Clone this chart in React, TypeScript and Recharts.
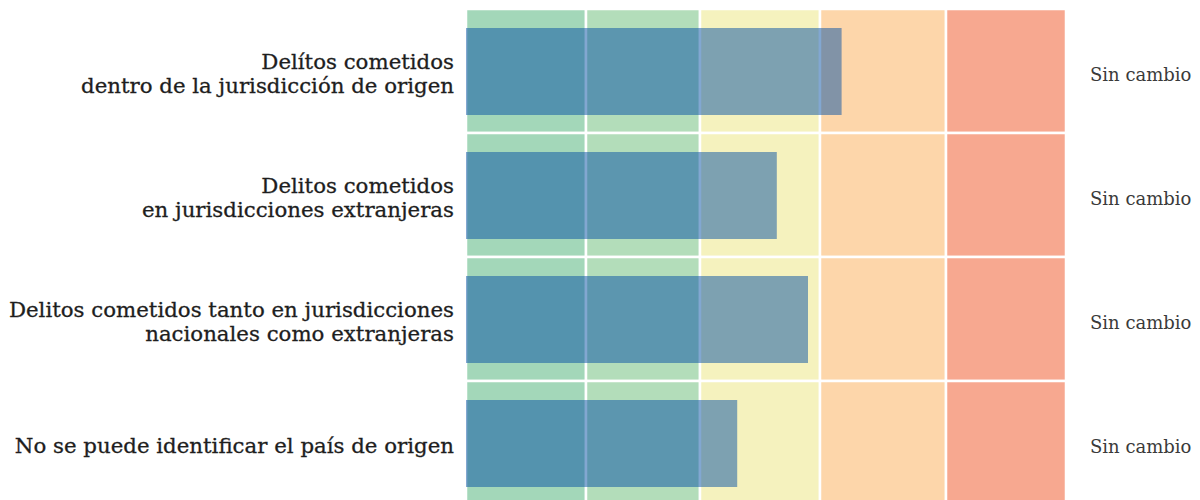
import React from 'react';
import { BarChart, Bar, XAxis, YAxis, ReferenceArea } from 'recharts';

const categories = [
  'Delítos cometidos\ndentro de la jurisdicción de origen',
  'Delitos cometidos\nen jurisdicciones extranjeras',
  'Delitos cometidos tanto en jurisdicciones\nnacionales como extranjeras',
  'No se puede identificar el país de origen',
];
const values = [62.6, 51.8, 57.0, 45.2];
const statuses = ['Sin cambio', 'Sin cambio', 'Sin cambio', 'Sin cambio'];
const bandEdges = [0, 20, 39, 59, 80, 100];
const bandColors = ['#A3D7B9', '#B3DDBA', '#F5F2BE', '#FDD6AA', '#F7A890'];

const data = categories.map((label, i) => ({ label, value: values[i], status: statuses[i] }));

const FONT = '"DejaVu Serif", serif';
const LINE = 24.5;

const LeftTick = (props: any) => {
  const { x, y, payload } = props;
  const lines = String(payload.value).split('\n');
  const n = lines.length;
  return (
    <text
      x={x}
      y={y}
      textAnchor="end"
      fontFamily={FONT}
      fontSize={21.3}
      fill="#1e1e1e"
      stroke="#1e1e1e"
      strokeWidth={0.3}
    >
      {lines.map((l, i) => (
        <tspan key={i} x={x} y={y + 10 + (i - (n - 1) / 2) * LINE}>
          {l}
        </tspan>
      ))}
    </text>
  );
};

const RightTick = (props: any) => {
  const { x, y, index, payload } = props;
  const idx = typeof index === 'number' ? index : payload.index;
  return (
    <text x={x} y={y + 10} textAnchor="start" fontFamily={FONT} fontSize={18} fill="#3a3a3a">
      {statuses[idx]}
    </text>
  );
};

export default function App() {
  return (
    <div style={{ width: 1184, height: 492, overflow: 'hidden' }}>
      <BarChart
        layout="vertical"
        width={1184}
        height={500}
        data={data}
        margin={{ top: 1, right: 0, bottom: 3, left: 0 }}
      >
        <XAxis type="number" domain={[0, 100]} hide />
        <YAxis
          yAxisId="left"
          type="category"
          dataKey="label"
          width={458}
          axisLine={false}
          tickLine={false}
          tickSize={0}
          tickMargin={12}
          tick={<LeftTick />}
          interval={0}
        />
        <YAxis
          yAxisId="right"
          orientation="right"
          type="category"
          dataKey="label"
          width={126}
          axisLine={false}
          tickLine={false}
          tickSize={0}
          tickMargin={24}
          tick={<RightTick />}
          interval={0}
        />
        {categories.map((cat) =>
          bandColors.map((color, b) => (
            <ReferenceArea
              key={cat + b}
              yAxisId="left"
              x1={bandEdges[b]}
              x2={bandEdges[b + 1]}
              y1={cat}
              y2={cat}
              fill={color}
              fillOpacity={1}
              stroke="#fff"
              strokeWidth={2.5}
              ifOverflow="visible"
            />
          ))
        )}
        <Bar
          yAxisId="left"
          dataKey="value"
          fill="#0650A4"
          fillOpacity={0.5}
          barSize={87}
          isAnimationActive={false}
        />
      </BarChart>
    </div>
  );
}
